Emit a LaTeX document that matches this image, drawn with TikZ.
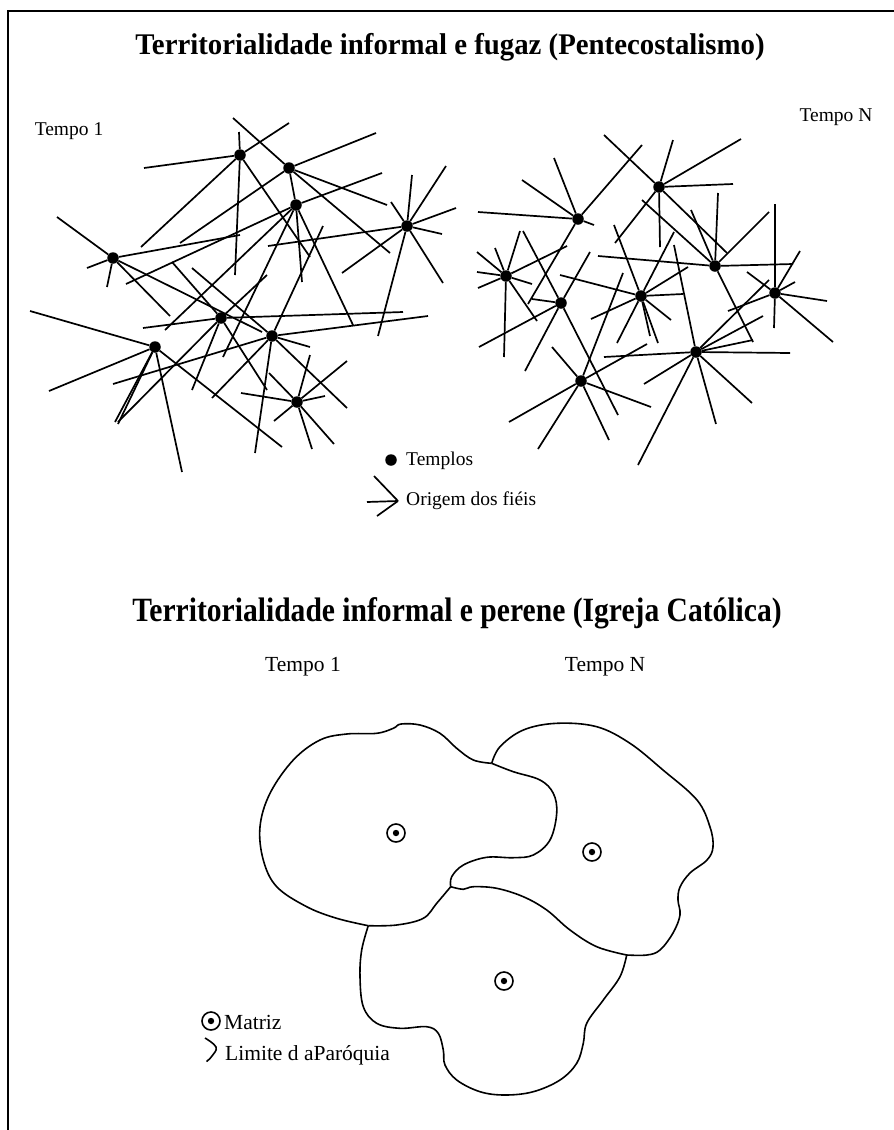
\documentclass[tikz,border=0pt]{standalone}
\usepackage{fontspec}
\setmainfont{Liberation Serif}
\usepackage{graphicx}

\tikzset{
	ray/.style={line width=1.7pt},
	templo/.style={circle, fill, inner sep=0pt, minimum size=11.5pt},
	matriz/.style={circle, draw, line width=1.6pt, inner sep=0pt, minimum size=18pt},
	limite/.style={line width=1.6pt},
	rotulo/.style={inner sep=0pt, font=\fontsize{19.5}{22}\selectfont},
	rotulob/.style={inner sep=0pt, font=\fontsize{21.5}{24}\selectfont},
}

\begin{document}
\begin{tikzpicture}[x=1pt, y=-1pt]
	\useasboundingbox (0,0) rectangle (894,1130);

	% moldura
	\draw[line width=2.8pt] (8,1130) -- (8,11) -- (894,11);

	% titulos
	\node (titulo1) at (450,47)
		{\fontsize{30}{34}\selectfont\bfseries\scalebox{0.96}[1]{Territorialidade informal e fugaz (Pentecostalismo)}};
	\node (titulo2) at (457,613)
		{\fontsize{34}{38}\selectfont\bfseries\scalebox{0.87}[1]{Territorialidade informal e perene (Igreja Católica)}};

	\node[rotulo] (tempo1a) at (69,131) {Tempo 1};
	\node[rotulo] (tempoNa) at (836,117) {Tempo N};
	\node[rotulob] (tempo1b) at (303,667) {Tempo 1};
	\node[rotulob] (tempoNb) at (605,667) {Tempo N};

	% templos, tempo 1
	\node[templo] (T1) at (240,155) {};
	\node[templo] (T2) at (289,168) {};
	\node[templo] (T3) at (296,205) {};
	\node[templo] (T4) at (407,226) {};
	\node[templo] (T5) at (113,258) {};
	\node[templo] (T6) at (221,318) {};
	\node[templo] (T7) at (272,336) {};
	\node[templo] (T8) at (155,347) {};
	\node[templo] (T9) at (297,402) {};

	\foreach \p in {(144,168),(289,123),(239,132),(235,275),(141,247),(310,257)}
		\draw[ray] (T1) -- \p;
	\foreach \p in {(233,118),(376,133),(387,205),(390,253),(180,243)}
		\draw[ray] (T2) -- \p;
	\draw[ray] (T2) -- (T3);
	\foreach \p in {(382,173),(126,284),(302,282),(353,325),(165,330),(223,357)}
		\draw[ray] (T3) -- \p;
	\foreach \p in {(391,202),(412,175),(446,166),(456,208),(442,234),(443,283),(378,336),(342,273),(268,246)}
		\draw[ray] (T4) -- \p;
	\foreach \p in {(57,217),(87,268),(107,287),(170,316),(240,235),(262,332)}
		\draw[ray] (T5) -- \p;
	\foreach \p in {(143,328),(403,312),(172,262),(267,390),(192,390),(118,422),(267,275)}
		\draw[ray] (T6) -- \p;
	\foreach \p in {(323,226),(428,316),(113,384),(310,347),(192,268),(347,408),(255,453),(212,398)}
		\draw[ray] (T7) -- \p;
	\foreach \p in {(30,311),(49,391),(115,422),(118,424),(182,472),(282,447)}
		\draw[ray] (T8) -- \p;
	\foreach \p in {(269,373),(310,355),(347,361),(325,396),(241,393),(274,421),(312,449),(334,444)}
		\draw[ray] (T9) -- \p;

	% templos, tempo N
	\node[templo] (N1) at (659,187) {};
	\node[templo] (N2) at (578,219) {};
	\node[templo] (N3) at (506,276) {};
	\node[templo] (N4) at (715,266) {};
	\node[templo] (N5) at (561,303) {};
	\node[templo] (N6) at (641,296) {};
	\node[templo] (N7) at (775,293) {};
	\node[templo] (N8) at (696,352) {};
	\node[templo] (N9) at (581,381) {};

	\foreach \p in {(604,135),(673,140),(741,139),(733,184),(660,247),(615,243),(727,253)}
		\draw[ray] (N1) -- \p;
	\foreach \p in {(522,180),(554,158),(642,145),(478,212),(594,225),(528,304)}
		\draw[ray] (N2) -- \p;
	\foreach \p in {(520,231),(495,248),(477,252),(477,272),(478,288),(504,357),(537,321),(532,284),(567,246)}
		\draw[ray] (N3) -- \p;
	\foreach \p in {(642,200),(691,210),(718,193),(769,212),(793,264),(598,256),(753,342)}
		\draw[ray] (N4) -- \p;
	\foreach \p in {(523,231),(590,252),(532,299),(479,347),(525,371),(618,415)}
		\draw[ray] (N5) -- \p;
	\foreach \p in {(614,225),(674,232),(688,267),(560,275),(591,319),(617,343),(658,343),(671,320),(683,294),(650,336)}
		\draw[ray] (N6) -- \p;
	\foreach \p in {(747,272),(775,204),(800,251),(795,282),(827,301),(833,342),(774,328),(728,311)}
		\draw[ray] (N7) -- \p;
	\foreach \p in {(604,357),(790,353),(674,245),(769,280),(763,316),(753,340),(644,384),(638,465),(716,424),(752,403)}
		\draw[ray] (N8) -- \p;
	\foreach \p in {(552,347),(647,344),(651,407),(509,422),(538,449),(609,440),(623,273)}
		\draw[ray] (N9) -- \p;

	% legenda de cima
	\node[templo] (legTemplo) at (391,460) {};
	\node[rotulo, anchor=west] (txtTemplos) at (406,461) {Templos};
	\path
	(398,501) coordinate (setaPonta)
	(374,476) coordinate (setaA)
	(367,502) coordinate (setaB)
	(377,516) coordinate (setaC);
	\draw[ray]
	(setaA)--(setaPonta)
	(setaB)--(setaPonta)
	(setaC)--(setaPonta);
	\node[rotulo, anchor=west] (txtOrigem) at (406,501) {Origem dos fiéis};

	% paroquias
	\path
	(491.7,763.3) coordinate (jAB)
	(450.7,886.7) coordinate (jABC)
	(368.3,925.7) coordinate (jAC)
	(626.7,955) coordinate (jBC);

	\draw[limite] plot[smooth, tension=0.6] coordinates {
		(jAB) (473.3,760) (456.7,748.3) (440,733.3) (420,725) (401,724)
		(393.3,728.3) (376.7,733.3) (346.7,734) (320,740) (293.3,760)
		(270,793.3) (260,826.7) (263.3,860) (276.7,886.7) (306.7,906.7)
		(336.7,918.3) (jAC)};
	\draw[limite] plot[smooth, tension=0.6] coordinates {
		(jAC) (396.7,925) (423.3,918.3) (436.7,903.3) (jABC)};
	\draw[limite] plot[smooth, tension=0.6] coordinates {
		(jABC) (451.7,876.7) (463.3,865) (486.7,857.3) (513.3,857.7)
		(533.3,855) (550,840) (556.7,813.3) (553.3,793.3) (540,780)
		(513.3,771.7) (jAB)};
	\draw[limite] plot[smooth, tension=0.6] coordinates {
		(jAB) (500,746.7) (523.3,730) (556.7,723.3) (596.7,726.7) (630,743.3)
		(663,770) (697,800) (710,827) (713,847) (707,860) (690,873)
		(680,887) (678,900) (680,915) (673,933) (660,950) (647,955) (jBC)};
	\draw[limite] plot[smooth, tension=0.6] coordinates {
		(jBC) (596.7,946.7) (570,930) (546.7,910) (523.3,896.7) (496.7,888.3)
		(473.3,886.7) (463.3,889.3) (jABC)};
	\draw[limite] plot[smooth, tension=0.6] coordinates {
		(jAC) (361.7,950) (360,976.7) (363.3,1006.7) (376.7,1023.3) (400,1028.3)
		(426.7,1026.7) (438.3,1033.3) (443.3,1050) (445,1065) (456.7,1080)
		(480,1091.7) (505,1095) (533.3,1091.7) (560,1080) (576.7,1063.3)
		(583.3,1043.3) (586.7,1023.3) (603.3,1000) (620,976.7) (jBC)};

	% matrizes
	\node[matriz] (matrizA) at (396,833) {};
	\node[matriz] (matrizB) at (592,852) {};
	\node[matriz] (matrizC) at (504,981) {};
	\foreach \m in {matrizA,matrizB,matrizC}
		\fill (\m) circle[radius=3.2pt];

	% legenda de baixo
	\node[matriz] (legMatriz) at (211,1021) {};
	\fill (legMatriz) circle[radius=3.2pt];
	\node[rotulob, anchor=west] (txtMatriz) at (224,1022) {Matriz};
	\draw[limite] plot[smooth, tension=0.7] coordinates {
		(205,1038) (216,1047) (212,1056) (206.5,1061.5)};
	\node[rotulob, anchor=west] (txtLimite) at (225,1055) {Limite d aParóquia};
\end{tikzpicture}
\end{document}
